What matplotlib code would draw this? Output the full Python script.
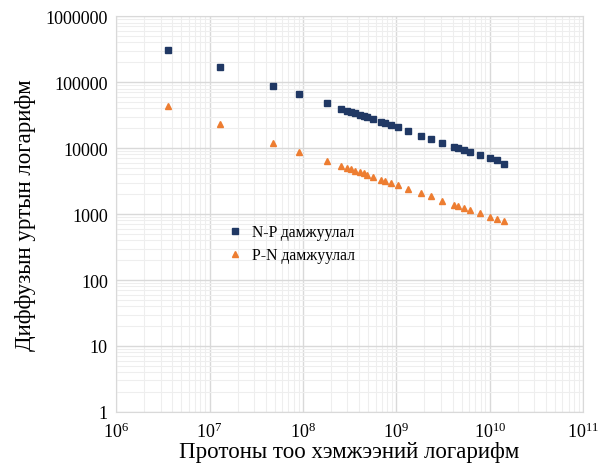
import numpy as np
import matplotlib.pyplot as plt
from matplotlib.ticker import FixedLocator, FuncFormatter, LogLocator, NullFormatter

plt.rcParams['font.family'] = ['Liberation Serif', 'DejaVu Serif']
plt.rcParams['mathtext.fontset'] = 'custom'
plt.rcParams['mathtext.rm'] = 'Liberation Serif'
plt.rcParams['mathtext.it'] = 'Liberation Serif'

# proton count (shared by both series)
protons = [3.58e6, 1.30e7, 4.82e7, 9.14e7, 1.81e8, 2.58e8, 2.94e8, 3.28e8, 3.58e8,
           4.09e8, 4.48e8, 4.87e8, 5.64e8, 6.87e8, 7.51e8, 8.8e8, 1.05e9, 1.34e9,
           1.86e9, 2.38e9, 3.12e9, 4.16e9, 4.59e9, 5.37e9, 6.23e9, 7.83e9, 1.0e10,
           1.19e10, 1.43e10]

# N-P diffusion rate
np_rate = [3.08e5, 1.67e5, 8.7e4, 6.5e4, 4.75e4, 3.94e4, 3.67e4, 3.55e4, 3.39e4,
           3.2e4, 3.05e4, 2.95e4, 2.75e4, 2.48e4, 2.39e4, 2.23e4, 2.08e4, 1.79e4,
           1.54e4, 1.38e4, 1.19e4, 1.04e4, 9.9e3, 9.2e3, 8.6e3, 7.75e3, 6.98e3,
           6.5e3, 5.78e3]

# P-N diffusion rate
pn_rate = [4.28e4, 2.31e4, 1.2e4, 8.7e3, 6.28e3, 5.28e3, 5.03e3, 4.81e3, 4.53e3,
           4.29e3, 4.14e3, 3.94e3, 3.67e3, 3.31e3, 3.2e3, 2.98e3, 2.78e3, 2.39e3,
           2.06e3, 1.85e3, 1.59e3, 1.38e3, 1.34e3, 1.23e3, 1.15e3, 1.04e3, 901,
           832, 776]

x_ticks = [1e6, 1e7, 1e8, 1e9, 1e10, 1e11]
y_ticks = [1, 10, 100, 1000, 10000, 100000, 1000000]


def main():
    fig = plt.figure(figsize=(6.08, 4.64), dpi=100)
    ax = fig.add_axes([0.191, 0.110, 0.768, 0.853])

    ax.plot(protons, np_rate, 's', color='#203864', markersize=4.2, label='N-P дамжуулал')
    ax.plot(protons, pn_rate, '^', color='#ED7D31', markersize=5, label='P-N дамжуулал')

    ax.set_xscale('log')
    ax.set_yscale('log')
    ax.set_xlim(1e6, 1e11)
    ax.set_ylim(1, 1e6)

    ax.xaxis.set_major_locator(FixedLocator(x_ticks))
    ax.xaxis.set_major_formatter(FuncFormatter(lambda v, p: r'$10^{%d}$' % round(np.log10(v))))
    ax.yaxis.set_major_locator(FixedLocator(y_ticks))
    ax.yaxis.set_major_formatter(FuncFormatter(lambda v, p: '%d' % v))
    for a in (ax.xaxis, ax.yaxis):
        a.set_minor_locator(LogLocator(base=10, subs=np.arange(2, 10)))
        a.set_minor_formatter(NullFormatter())

    ax.grid(True, which='major', color='#d9d9d9', linewidth=1.0)
    ax.grid(True, which='minor', color='#eeeeee', linewidth=0.8)
    ax.set_axisbelow(True)
    for s in ax.spines.values():
        s.set_color('#d9d9d9')
    ax.tick_params(which='both', length=0, labelsize=13)
    ax.tick_params(axis='x', pad=7)
    ax.tick_params(axis='y', pad=6)

    ax.set_xlabel('Протоны тоо хэмжээний логарифм', fontsize=16.5, labelpad=0)
    ax.set_ylabel('Диффузын уртын логарифм', fontsize=16.5, labelpad=7)

    ax.legend(loc='upper left', bbox_to_anchor=(0.347, 0.545), bbox_transform=fig.transFigure,
              frameon=False, fontsize=11.3, handletextpad=0.5, labelspacing=0.45,
              handlelength=1.2)

    fig.savefig('out.png', dpi=100)


if __name__ == '__main__':
    main()
